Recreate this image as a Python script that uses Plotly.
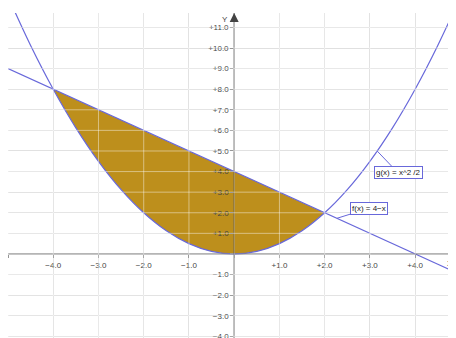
import plotly.graph_objects as go

# ---- data ----
x_range = [-5.0, 5.08]
y_range = [-4.47, 11.7]

# parabola g(x) = x^2/2 sampled at half units
g_x = [-5.0, -4.5, -4.0, -3.5, -3.0, -2.5, -2.0, -1.5, -1.0, -0.5, 0.0,
       0.5, 1.0, 1.5, 2.0, 2.5, 3.0, 3.5, 4.0, 4.5, 5.0, 5.5]
g_y = [12.5, 10.125, 8.0, 6.125, 4.5, 3.125, 2.0, 1.125, 0.5, 0.125, 0.0,
       0.125, 0.5, 1.125, 2.0, 3.125, 4.5, 6.125, 8.0, 10.125, 12.5, 15.125]

# straight line f(x) = 4 - x
f_x = [-5.0, 5.5]
f_y = [9.0, -1.5]

# shaded region between the curves (x from -4 to +2)
area_x = [-4.0, -3.5, -3.0, -2.5, -2.0, -1.5, -1.0, -0.5, 0.0, 0.5, 1.0, 1.5, 2.0]
area_low = [8.0, 6.125, 4.5, 3.125, 2.0, 1.125, 0.5, 0.125, 0.0, 0.125, 0.5, 1.125, 2.0]
area_high = [8.0, 7.5, 7.0, 6.5, 6.0, 5.5, 5.0, 4.5, 4.0, 3.5, 3.0, 2.5, 2.0]

x_tick_vals = [-5, -4, -3, -2, -1, 0, 1, 2, 3, 4, 5]
x_tick_text = ["", "−4.0", "−3.0", "−2.0", "−1.0", "", "+1.0", "+2.0", "+3.0", "+4.0", ""]
y_tick_vals = [-4, -3, -2, -1, 0, 1, 2, 3, 4, 5, 6, 7, 8, 9, 10, 11]
y_tick_text = ["−4.0", "−3.0", "−2.0", "−1.0", "", "+1.0", "+2.0", "+3.0", "+4.0",
               "+5.0", "+6.0", "+7.0", "+8.0", "+9.0", "+10.0", "+11.0"]

g_label = "g(x) = x^2 /2"
g_label_at = (3.16, 5.0)
f_label = "f(x) = 4−x"
f_label_at = (2.27, 1.73)
x_name_at = (4.76, 0.0)
y_name_at = (0.0, 11.4)

LINE = "rgb(104,104,218)"
FILL = "rgba(184,134,11,0.93)"
FONT = "Liberation Sans"

fig = go.Figure()
fig.add_trace(go.Scatter(x=area_x, y=area_low, mode="lines", line=dict(width=0, shape="spline"),
                         hoverinfo="skip", showlegend=False))
fig.add_trace(go.Scatter(x=area_x, y=area_high, mode="lines", line=dict(width=0, shape="spline"),
                         fill="tonexty", fillcolor=FILL, hoverinfo="skip", showlegend=False))
fig.add_trace(go.Scatter(x=f_x, y=f_y, mode="lines", line=dict(color=LINE, width=1.2),
                         showlegend=False))
fig.add_trace(go.Scatter(x=g_x, y=g_y, mode="lines", line=dict(color=LINE, width=1.2, shape="spline"),
                         showlegend=False))

# light gridlines drawn over the shaded area
shapes = []
for v in x_tick_vals:
    shapes.append(dict(type="line", xref="x", yref="paper", x0=v, x1=v, y0=0, y1=1,
                       line=dict(color="rgba(255,255,255,0.45)", width=1), layer="above"))
for v in y_tick_vals:
    shapes.append(dict(type="line", xref="paper", yref="y", x0=0, x1=1, y0=v, y1=v,
                       line=dict(color="rgba(255,255,255,0.45)", width=1), layer="above"))

x_zero_pos = (0 - y_range[0]) / (y_range[1] - y_range[0])
y_zero_pos = (0 - x_range[0]) / (x_range[1] - x_range[0])

fig.update_layout(
    width=456, height=338,
    margin=dict(l=0, r=0, t=5, b=0),
    paper_bgcolor="white", plot_bgcolor="white",
    font=dict(family=FONT, size=8, color="#444"),
    shapes=shapes,
    xaxis=dict(range=x_range, tickvals=x_tick_vals, ticktext=x_tick_text,
               showgrid=True, gridcolor="#d8d8d8", gridwidth=1, zeroline=False,
               showline=True, linecolor="rgba(0,0,0,0.28)", linewidth=2,
               ticks="outside", ticklen=3, tickcolor="#777", tickwidth=1,
               anchor="free", position=x_zero_pos, fixedrange=True,
               tickfont=dict(family=FONT, size=8, color="#444")),
    yaxis=dict(range=y_range, tickvals=y_tick_vals, ticktext=y_tick_text,
               showgrid=True, gridcolor="#d8d8d8", gridwidth=1, zeroline=False,
               showline=True, linecolor="rgba(0,0,0,0.28)", linewidth=2,
               ticks="outside", ticklen=3, tickcolor="#777", tickwidth=1,
               anchor="free", position=y_zero_pos, fixedrange=True,
               tickfont=dict(family=FONT, size=8, color="#444")),
    annotations=[
        dict(x=g_label_at[0], y=g_label_at[1], xref="x", yref="y", text=g_label,
             showarrow=True, arrowhead=0, arrowcolor=LINE, arrowwidth=1, ax=21, ay=22,
             bgcolor="white", bordercolor=LINE, borderwidth=1, borderpad=1,
             font=dict(family=FONT, size=8, color="#222")),
        dict(x=f_label_at[0], y=f_label_at[1], xref="x", yref="y", text=f_label,
             showarrow=True, arrowhead=0, arrowcolor=LINE, arrowwidth=1, ax=32, ay=-10,
             bgcolor="white", bordercolor=LINE, borderwidth=1, borderpad=1,
             font=dict(family=FONT, size=8, color="#222")),
        dict(x=0, y=y_range[1], xref="x", yref="y", ax=0, ay=y_range[1] - 0.3,
             axref="x", ayref="y", text="", showarrow=True, arrowhead=2, arrowsize=1.2,
             arrowwidth=1.5, arrowcolor="#444"),
        dict(x=y_name_at[0], y=y_name_at[1], xref="x", yref="y", text="Y", showarrow=False,
             xanchor="right", xshift=-4, font=dict(family=FONT, size=8, color="#444")),
        dict(x=x_name_at[0], y=x_name_at[1], xref="x", yref="y", text="X", showarrow=False,
             xanchor="center", yanchor="top", yshift=-3, font=dict(family=FONT, size=8, color="#444")),
    ],
)

fig.write_html("out.html")
